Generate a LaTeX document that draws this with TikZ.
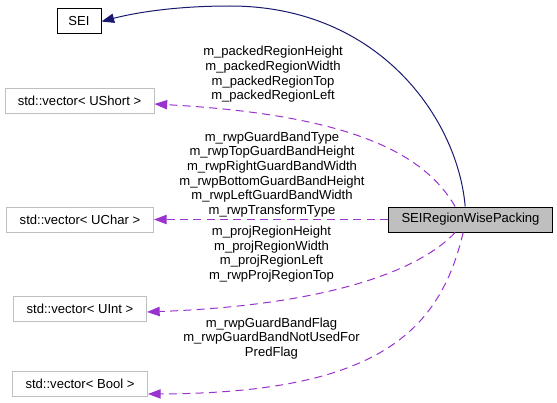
\documentclass[tikz,border=0pt]{standalone}
\usepackage{fontspec}
\setmainfont{Liberation Sans}
\usetikzlibrary{arrows.meta}
\definecolor{edgenavy}{HTML}{191970}
\definecolor{edgeviolet}{HTML}{9A32CD}
\definecolor{boxgray}{HTML}{BFBFBF}

\begin{document}
\begin{tikzpicture}[x=0.75pt,y=-0.75pt,line width=0.75pt,
  font=\fontsize{9.8}{10.95}\selectfont,
  cls/.style={draw, minimum height=18.75pt, inner sep=0pt},
  ext/.style={cls, draw=boxgray},
  inherit/.style={draw=edgenavy, -{Triangle[length=9.5pt,width=7pt]}},
  usage/.style={draw=edgeviolet, dash pattern=on 6pt off 4pt, -{Triangle[length=9.5pt,width=7pt]}},
  lbl/.style={align=center, inner sep=0pt}]
\useasboundingbox (0,0) rectangle (557,403);
\node[cls, minimum width=33pt] (sei) at (79,21.5) {SEI};
\node[ext, minimum width=111.75pt] (ushort) at (79.5,101) {std::vector< UShort >};
\node[ext, minimum width=110.25pt] (uchar) at (80,219.5) {std::vector< UChar >};
\node[ext, minimum width=99.75pt] (uint) at (80,309) {std::vector< UInt >};
\node[ext, minimum width=101.25pt] (bool) at (80,384) {std::vector< Bool >};
\node[cls, fill=boxgray, minimum width=123pt] (rwp) at (470.5,219.5) {SEIRegionWisePacking};

\node[lbl] (ushortlbl) at (273,74.5) {m\_packedRegionHeight\\m\_packedRegionWidth\\m\_packedRegionTop\\m\_packedRegionLeft};
\node[lbl] (ucharlbl) at (272,174.5) {m\_rwpGuardBandType\\m\_rwpTopGuardBandHeight\\m\_rwpRightGuardBandWidth\\m\_rwpBottomGuardBandHeight\\m\_rwpLeftGuardBandWidth\\m\_rwpTransformType};
\node[lbl] (uintlbl) at (271.5,254) {m\_projRegionHeight\\m\_projRegionWidth\\m\_projRegionLeft\\m\_rwpProjRegionTop};
\node[lbl] (boollbl) at (271.5,338.5) {m\_rwpGuardBandFlag\\m\_rwpGuardBandNotUsedFor\\PredFlag};

\path[inherit] ([xshift=-4pt]rwp.north) .. controls (458,120) and (380,6) .. (230,6) .. controls (170,6) and (130,14) .. (sei.east);
\path[usage] ([xshift=-11.5pt]rwp.north) .. controls (425,155) and (355,115) .. ([yshift=-2.25pt]ushort.east);
\path[usage,line width=0.85pt] (rwp.west) -- (uchar.east);
\path[usage] ([xshift=-11.5pt]rwp.south) .. controls (420,270) and (330,305) .. ([yshift=-2.25pt]uint.east);
\path[usage] ([xshift=-5.5pt]rwp.south) .. controls (440,330) and (380,393) .. ([yshift=-7.5pt]bool.east);
\end{tikzpicture}
\end{document}
